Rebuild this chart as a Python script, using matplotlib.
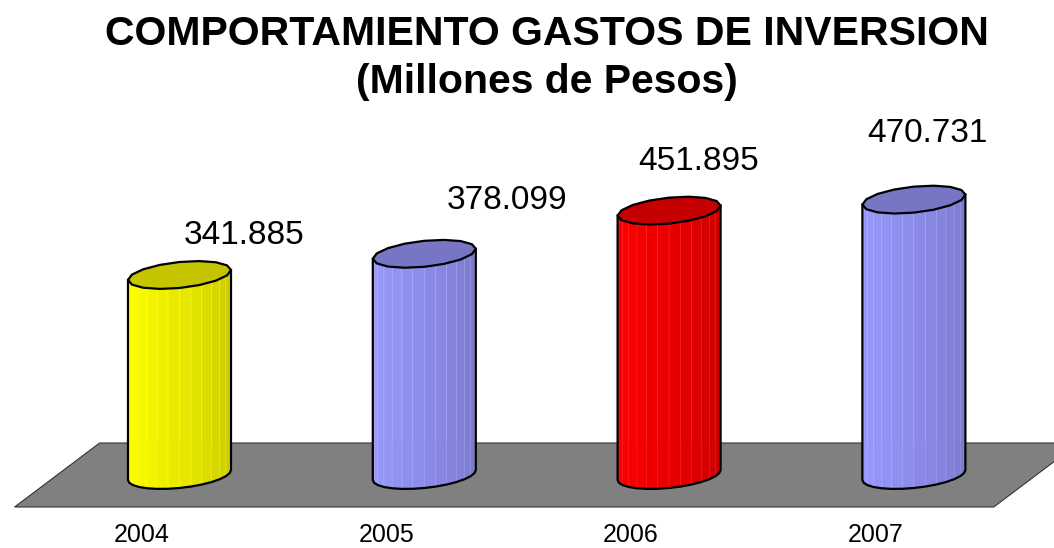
import numpy as np
import matplotlib.pyplot as plt
from matplotlib.patches import Polygon
from matplotlib.colors import to_rgb

plt.rcParams['font.family'] = ['Liberation Sans', 'DejaVu Sans']

# Data
years = ['2004', '2005', '2006', '2007']
gastos = [341.885, 378.099, 451.895, 470.731]
value_labels = ['341.885', '378.099', '451.895', '470.731']

# Style
bar_colors = ['#FFFF00', '#9999FF', '#FF0000', '#9999FF']
label_offsets = [(65, 31), (83, 45), (30, 41), (14, 58)]  # pixels from top of cylinder

# pixel layout of the 3d look
W, H = 1054, 548
x0_px, step_px = 179.5, 244.8      # first bar centre, spacing
base_px, k_px = 475, 0.585         # baseline, pixels per unit
sx, sy = 1 / step_px, 1 / k_px     # data units per pixel
a, b, s = 51.5, 13, 5              # cylinder half width, ellipse half height, tilt

fig = plt.figure(figsize=(W / 100, H / 100), dpi=100)
ax = fig.add_axes([0, 0, 1, 1])
ax.set_xlim(-x0_px / step_px, (W - x0_px) / step_px)
ax.set_ylim(-(H - base_px) / k_px, base_px / k_px)
ax.axis('off')

# gray floor
n = len(gastos)
shear, depth = 42.5 * sx, 32 * sy
floor = [(-0.5 + shear, depth), (n - 0.5 + shear, depth),
         (n - 0.5 - shear, -depth), (-0.5 - shear, -depth)]
ax.add_patch(Polygon(floor, closed=True, facecolor='#808080',
                     edgecolor='#333333', lw=0.8, zorder=1))


def ring(cx, cy, u):
    return cx + a * sx * np.cos(u), cy + (b * np.sin(u) + s * np.cos(u)) * sy


# cylinders
nf = 14
for i, (v, c) in enumerate(zip(gastos, bar_colors)):
    rgb = np.array(to_rgb(c))
    u = np.linspace(np.pi, 2 * np.pi, nf + 1)
    xb, yb = ring(i, 0, u)
    xt, yt = ring(i, v, u)
    for j in range(nf):
        f = 1.0 - 0.22 * (j / (nf - 1)) ** 1.3
        poly = [(xb[j], yb[j]), (xb[j + 1], yb[j + 1]),
                (xt[j + 1], yt[j + 1]), (xt[j], yt[j])]
        edge = np.clip(rgb * f + 0.1, 0, 1)
        ax.add_patch(Polygon(poly, closed=True, facecolor=rgb * f,
                             edgecolor=edge, lw=0.4, zorder=2))
    # outline of the body
    ox = np.concatenate([[xt[0]], xb, [xt[-1]]])
    oy = np.concatenate([[yt[0]], yb, [yt[-1]]])
    ax.plot(ox, oy, color='black', lw=1.6, zorder=3, solid_joinstyle='round')
    # top face
    ut = np.linspace(0, 2 * np.pi, 17)
    tx, ty = ring(i, v, ut)
    ax.add_patch(Polygon(np.column_stack([tx, ty]), closed=True,
                         facecolor=rgb * 0.77, edgecolor='black', lw=1.6,
                         zorder=4, joinstyle='round'))
    ax.annotate(value_labels[i], (i, v), xytext=label_offsets[i],
                textcoords='offset pixels', ha='center', va='baseline',
                fontsize=24)
    ax.annotate(years[i], (i, 0), xytext=(-38, -67),
                textcoords='offset pixels', ha='center', va='baseline',
                fontsize=18)

fig.text(0.519, 1 - 45 / H, 'COMPORTAMIENTO GASTOS DE INVERSION',
         ha='center', va='baseline', fontsize=29.5, fontweight='bold')
fig.text(0.519, 1 - 93 / H, '(Millones de Pesos)',
         ha='center', va='baseline', fontsize=29.5, fontweight='bold')

fig.savefig('out.png', dpi=100)
